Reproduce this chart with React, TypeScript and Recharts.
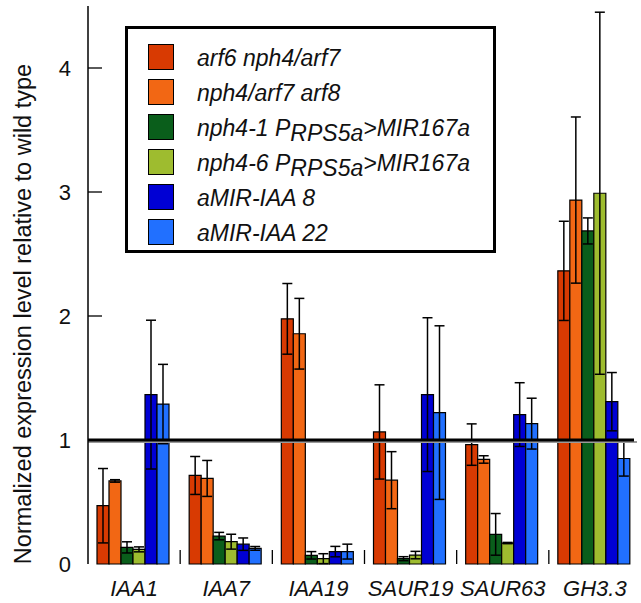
import React from 'react';
import { BarChart, Bar, XAxis, YAxis, ErrorBar, ReferenceLine, Legend } from 'recharts';

const FONT = '"Liberation Sans", Arial, sans-serif';
const W = 641;
const H = 603;
const PLOT_LEFT = 88;
const PLOT_TOP = 6;
const AXIS_H = 39;

const GENES = ['IAA1', 'IAA7', 'IAA19', 'SAUR19', 'SAUR63', 'GH3.3'];
const Y_TICKS = [0, 1, 2, 3, 4];

// mean values
const ARF6_NPH4 = [0.47, 0.714, 1.977, 1.065, 0.963, 2.364];
const NPH4_ARF8 = [0.67, 0.69, 1.857, 0.676, 0.843, 2.935];
const NPH4_1_MIR = [0.134, 0.225, 0.07, 0.043, 0.239, 2.686];
const NPH4_6_MIR = [0.118, 0.18, 0.043, 0.072, 0.169, 2.99];
const AMIR_IAA8 = [1.366, 0.16, 0.1, 1.366, 1.205, 1.309];
const AMIR_IAA22 = [1.29, 0.126, 0.1, 1.221, 1.132, 0.851];

// error bars (symmetric)
const ARF6_NPH4_ERR = [0.3, 0.153, 0.285, 0.38, 0.167, 0.4];
const NPH4_ARF8_ERR = [0.01, 0.145, 0.285, 0.23, 0.03, 0.67];
const NPH4_1_MIR_ERR = [0.045, 0.03, 0.03, 0.016, 0.168, 0.105];
const NPH4_6_MIR_ERR = [0.02, 0.06, 0.04, 0.03, 0.005, 1.46];
const AMIR_IAA8_ERR = [0.6, 0.05, 0.042, 0.62, 0.257, 0.235];
const AMIR_IAA22_ERR = [0.32, 0.015, 0.06, 0.7, 0.205, 0.142];

const SERIES = [
  { key: 's0', name: 'arf6 nph4/arf7', color: '#D83A02', values: ARF6_NPH4, err: ARF6_NPH4_ERR },
  { key: 's1', name: 'nph4/arf7 arf8', color: '#F26714', values: NPH4_ARF8, err: NPH4_ARF8_ERR },
  { key: 's2', name: 'nph4-1|>MIR167a', color: '#0A5E1B', values: NPH4_1_MIR, err: NPH4_1_MIR_ERR },
  { key: 's3', name: 'nph4-6|>MIR167a', color: '#9EBC2F', values: NPH4_6_MIR, err: NPH4_6_MIR_ERR },
  { key: 's4', name: 'aMIR-IAA 8', color: '#0000D4', values: AMIR_IAA8, err: AMIR_IAA8_ERR },
  { key: 's5', name: 'aMIR-IAA 22', color: '#2170FF', values: AMIR_IAA22, err: AMIR_IAA22_ERR },
];

const data = GENES.map((gene, i) => {
  const row: Record<string, any> = { gene };
  SERIES.forEach((s) => {
    row[s.key] = s.values[i];
    row[s.key + 'e'] = s.err[i];
  });
  return row;
});

const BAND = (W - PLOT_LEFT) / GENES.length;

function XTick(props: any) {
  const { x, payload, index } = props;
  const base = H - AXIS_H;
  return (
    <g>
      {index > 0 && (
        <line x1={x - BAND / 2} x2={x - BAND / 2} y1={base} y2={base - 14} stroke="#000" strokeWidth={1.3} />
      )}
      <text x={x} y={596} textAnchor="middle" fontFamily={FONT} fontStyle="italic" fontSize={22} fill="#111">
        {payload.value}
      </text>
    </g>
  );
}

function YTick(props: any) {
  const { x, y, payload } = props;
  return (
    <g>
      {payload.value > 0 && (
        <line x1={PLOT_LEFT} x2={PLOT_LEFT + 14} y1={y} y2={y} stroke="#000" strokeWidth={1.3} />
      )}
      <text x={x} y={y} dy={8} textAnchor="end" fontFamily={FONT} fontSize={22} fill="#111">
        {payload.value}
      </text>
    </g>
  );
}

function LegendLabel({ name }: { name: string }) {
  if (name.includes('|')) {
    const [pre, post] = name.split('|');
    return (
      <span>
        {pre} P<span style={{ position: 'relative', top: 5 }}>RPS5a</span>
        {post}
      </span>
    );
  }
  return <span>{name}</span>;
}

function renderLegend() {
  return (
    <div
      style={{
        boxSizing: 'border-box',
        width: 371,
        height: 227,
        border: '3px solid #000',
        background: '#fff',
        paddingTop: 10,
        paddingLeft: 20,
        fontFamily: FONT,
        fontStyle: 'italic',
        fontSize: 23,
        color: '#111',
      }}
    >
      {SERIES.map((s) => (
        <div key={s.key} style={{ display: 'flex', alignItems: 'center', height: 35 }}>
          <div
            style={{
              width: 24,
              height: 24,
              background: s.color,
              border: '1px solid #000',
              marginRight: 23,
              flexShrink: 0,
            }}
          />
          <div style={{ position: 'relative', top: 2, whiteSpace: 'nowrap' }}>
            <LegendLabel name={s.name} />
          </div>
        </div>
      ))}
    </div>
  );
}

function RefLine(props: any) {
  const { x1, y1 } = props;
  const x2 = 634;
  return (
    <g>
      <line x1={x1} x2={x2 + 3} y1={y1 + 2} y2={y1 + 2} stroke="#9a9a9a" strokeWidth={2} />
      <line x1={x1} x2={x2} y1={y1} y2={y1} stroke="#000" strokeWidth={3} />
    </g>
  );
}

export default function App() {
  return (
    <div style={{ position: 'absolute', left: 0, top: 0, width: W, height: H, background: '#fff' }}>
      <BarChart
        width={W}
        height={H}
        data={data}
        margin={{ top: PLOT_TOP, right: 0, left: 0, bottom: 0 }}
        barCategoryGap={9}
        barGap={0}
      >
        <XAxis
          dataKey="gene"
          axisLine={false}
          tickLine={false}
          height={AXIS_H}
          interval={0}
          tick={<XTick />}
        />
        <YAxis
          width={PLOT_LEFT}
          domain={[0, 4.5]}
          ticks={Y_TICKS}
          tickLine={false}
          tickSize={0}
          tickMargin={17}
          axisLine={{ stroke: '#000', strokeWidth: 1.5 }}
          tick={<YTick />}
          label={{
            content: (p: any) => {
              const vb = p.viewBox;
              const cx = vb.x + 23;
              const cy = vb.y + vb.height / 2 + 29;
              return (
                <text
                  transform={`translate(${cx},${cy}) rotate(-90)`}
                  textAnchor="middle"
                  dominantBaseline="central"
                  fontFamily={FONT}
                  fontSize={23.5}
                  fill="#111"
                >
                  Normalized expression level relative to wild type
                </text>
              );
            },
          }}
        />
        {SERIES.map((s) => (
          <Bar key={s.key} dataKey={s.key} name={s.name} fill={s.color} stroke="#000" strokeWidth={1.2} isAnimationActive={false}>
            <ErrorBar dataKey={s.key + 'e'} direction="y" width={5} stroke="#000" strokeWidth={1.5} isAnimationActive={false} />
          </Bar>
        ))}
        <ReferenceLine y={1} shape={<RefLine />} />
        <Legend
          layout="vertical"
          align="center"
          verticalAlign="middle"
          content={renderLegend}
          wrapperStyle={{ position: 'absolute', left: 125, top: 26, width: 371, height: 227 }}
        />
      </BarChart>
    </div>
  );
}
